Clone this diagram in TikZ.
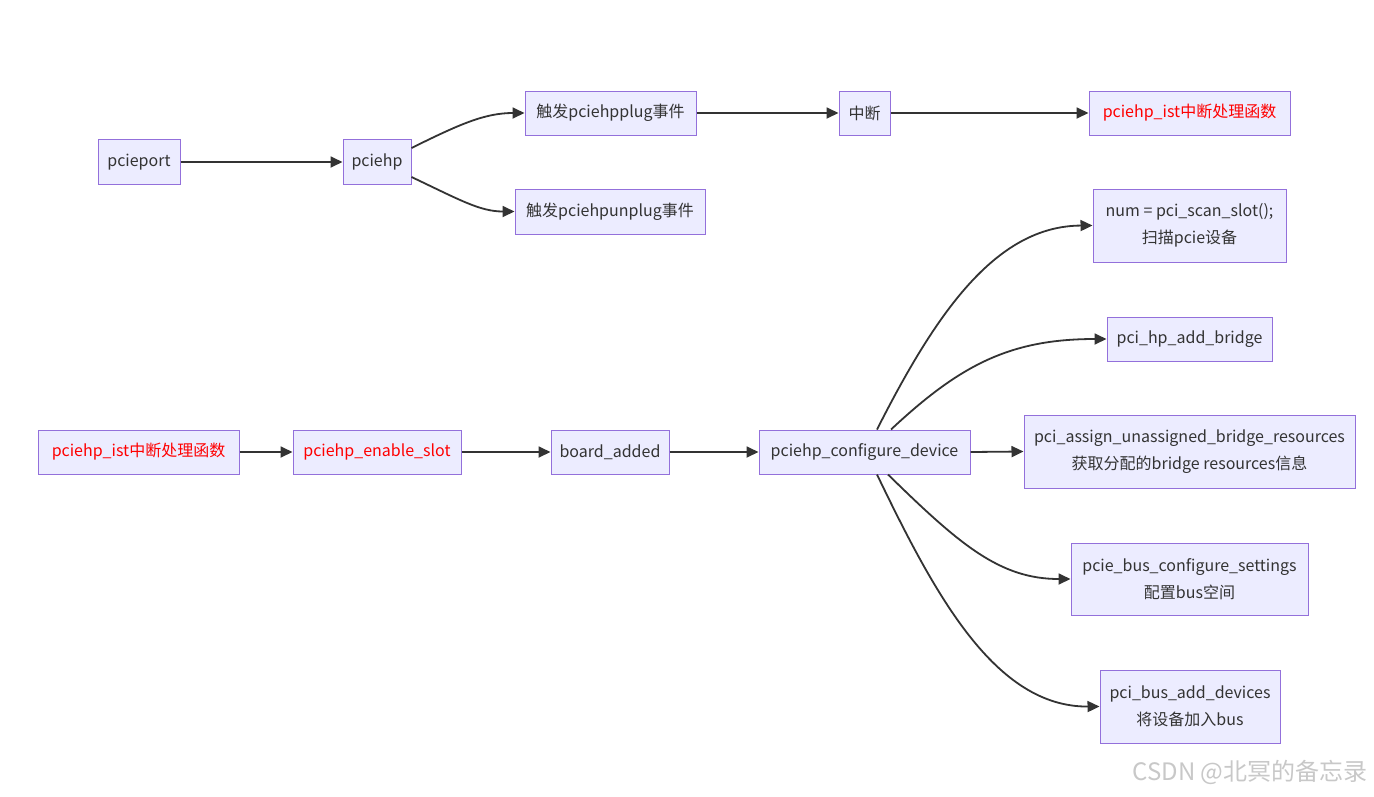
\documentclass[tikz,border=0pt]{standalone}
\usepackage{fontspec}
\setmainfont{Noto Sans CJK SC}
\usetikzlibrary{arrows.meta}
\definecolor{boxfill}{HTML}{ECECFF}
\definecolor{boxdraw}{HTML}{9370DB}
\definecolor{edge}{HTML}{333333}
\definecolor{wm}{HTML}{C8C8C8}
\tikzset{
  box/.style={draw=boxdraw, fill=boxfill, line width=1pt, inner sep=0pt, align=center,
    font=\fontsize{16}{27}\selectfont, text=edge},
  redtxt/.style={text=red},
  conn/.style={draw=edge, line width=1.8pt, -{Triangle[length=12pt,width=11pt]}},
}
\begin{document}
\begin{tikzpicture}[x=1pt,y=-1pt]
\useasboundingbox (0,0) rectangle (1374,796);
\fill[white] (0,0) rectangle (1374,796);
% top row
\node[box, minimum width=82pt, minimum height=45pt] (port) at (139,162) {pcieport};
\node[box, minimum width=68pt, minimum height=45pt] (hp) at (377,162) {pciehp};
\node[box, minimum width=171pt, minimum height=44pt] (plug) at (610.5,113) {触发pciehpplug事件};
\node[box, minimum width=190pt, minimum height=45pt] (unplug) at (610,211.5) {触发pciehpunplug事件};
\node[box, minimum width=51pt, minimum height=44pt] (irq) at (864.5,113) {中断};
\node[box, redtxt, minimum width=201pt, minimum height=44pt] (ist1) at (1189.5,113) {pciehp\_ist中断处理函数};
% bottom row
\node[box, redtxt, minimum width=201pt, minimum height=44pt] (ist2) at (138.5,452) {pciehp\_ist中断处理函数};
\node[box, redtxt, minimum width=168pt, minimum height=44pt] (en) at (377,452) {pciehp\_enable\_slot};
\node[box, minimum width=118pt, minimum height=44pt] (ba) at (610,452) {board\_added};
\node[box, minimum width=211pt, minimum height=44pt] (cfg) at (864.5,452) {pciehp\_configure\_device};
% right column
\node[box, minimum width=193pt, minimum height=73pt] (scan) at (1189.5,225.5) {num = pci\_scan\_slot();\\扫描pcie设备};
\node[box, minimum width=165pt, minimum height=44pt] (bridge) at (1189.5,339) {pci\_hp\_add\_bridge};
\node[box, minimum width=331pt, minimum height=73pt] (assign) at (1189.5,451.5) {pci\_assign\_unassigned\_bridge\_resources\\获取分配的bridge resources信息};
\node[box, minimum width=237pt, minimum height=72pt] (bus) at (1189.5,579) {pcie\_bus\_configure\_settings\\配置bus空间};
\node[box, minimum width=180pt, minimum height=73pt] (add) at (1190,706.5) {pci\_bus\_add\_devices\\将设备加入bus};
% connectors top
\draw[conn] (port.east) -- (hp.west);
\draw[conn] (hp.east |- 0,148) .. controls (460,124) and (485,113) .. (plug.west);
\draw[conn] (hp.east |- 0,177) .. controls (460,200) and (480,211.5) .. (unplug.west);
\draw[conn] (plug.east) -- (irq.west);
\draw[conn] (irq.east) -- (ist1.west);
% connectors bottom
\draw[conn] (ist2.east) -- (en.west);
\draw[conn] (en.east) -- (ba.west);
\draw[conn] (ba.east) -- (cfg.west);
\draw[conn] (cfg.north -| 877,0) .. controls (935,315) and (995,226) .. (scan.west);
\draw[conn] (cfg.north -| 891,0) .. controls (960,365) and (1010,339) .. (bridge.west);
\draw[conn] (cfg.east) -- (assign.west);
\draw[conn] (cfg.south -| 888,0) .. controls (960,545) and (1000,579) .. (bus.west);
\draw[conn] (cfg.south -| 877,0) .. controls (935,595) and (995,707) .. (add.west);
% watermark
\node[text=wm, font=\fontsize{24}{28}\selectfont, anchor=east] (wmark) at (1371,772) {CSDN @北冥的备忘录};
\end{tikzpicture}
\end{document}
